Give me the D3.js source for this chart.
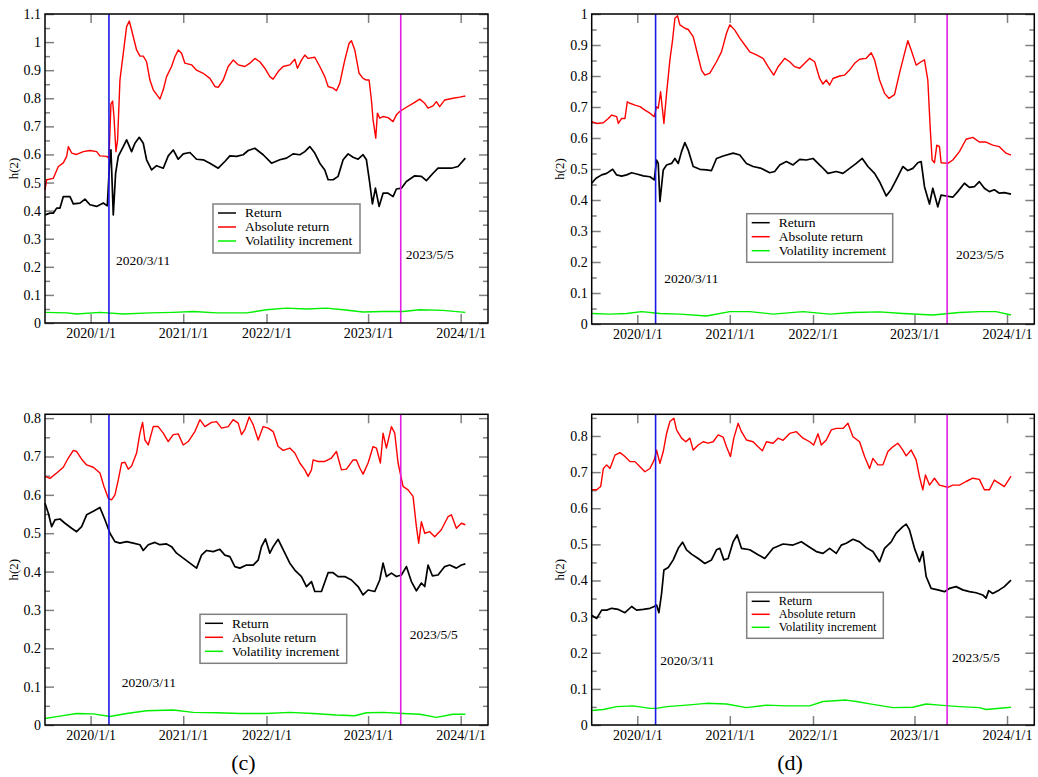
<!DOCTYPE html>
<html>
<head>
<meta charset="utf-8">
<script src="https://cdn.jsdelivr.net/npm/d3@7"></script>
<style>
body { margin: 0; background: #fff; }
text { font-family: "Liberation Serif", "Times New Roman", serif; }
</style>
</head>
<body>
<svg id="chart" width="1038" height="777"></svg>
<script>
// x is the observation index of the sample, dates only mark some of them
var xMax = 1330;
var xTicks = [137, 415, 665, 970, 1248];
var xTickLabels = ["2020/1/1", "2021/1/1", "2022/1/1", "2023/1/1", "2024/1/1"];
var events = [192, 1068];
var eventLabels = ["2020/3/11", "2023/5/5"];
var seriesNames = ["Return", "Absolute return", "Volatility increment"];
var seriesColors = ["#000000", "#ff0000", "#00f000"];

// panel (a)
var retA = [[0,0.385],[15,0.391],[25,0.391],[35,0.409],[45,0.409],[55,0.45],[75,0.45],[85,0.424],[105,0.427],[120,0.441],[135,0.421],[155,0.415],[175,0.427],[187,0.417],[195,0.593],[198,0.616],[205,0.385],[212,0.533],[220,0.593],[235,0.628],[245,0.652],[260,0.61],[270,0.64],[283,0.661],[295,0.64],[305,0.581],[320,0.545],[335,0.56],[355,0.551],[370,0.595],[385,0.616],[400,0.583],[415,0.602],[435,0.607],[455,0.583],[475,0.581],[495,0.569],[520,0.551],[540,0.575],[555,0.595],[575,0.593],[595,0.599],[610,0.614],[630,0.622],[655,0.599],[680,0.569],[705,0.581],[725,0.587],[745,0.602],[765,0.599],[780,0.61],[795,0.628],[810,0.605],[825,0.569],[840,0.545],[850,0.51],[865,0.51],[880,0.522],[895,0.581],[910,0.602],[925,0.59],[940,0.583],[955,0.599],[965,0.581],[975,0.498],[983,0.424],[992,0.48],[1003,0.415],[1015,0.462],[1030,0.462],[1045,0.45],[1055,0.477],[1070,0.48],[1085,0.504],[1110,0.524],[1130,0.522],[1145,0.507],[1165,0.533],[1180,0.551],[1200,0.551],[1220,0.551],[1240,0.557],[1262,0.587]];
var absA = [[0,0.474],[5,0.51],[25,0.515],[40,0.557],[55,0.57],[65,0.593],[70,0.628],[80,0.605],[95,0.6],[115,0.61],[135,0.614],[155,0.61],[165,0.595],[185,0.593],[192,0.587],[198,0.78],[203,0.79],[207,0.735],[213,0.61],[218,0.652],[225,0.865],[235,0.96],[245,1.055],[253,1.075],[260,1.043],[275,0.972],[285,0.95],[295,0.95],[305,0.93],[315,0.865],[325,0.83],[340,0.806],[345,0.797],[355,0.83],[365,0.877],[380,0.913],[390,0.948],[400,0.972],[410,0.96],[420,0.925],[440,0.919],[455,0.9],[475,0.889],[495,0.871],[510,0.842],[520,0.839],[535,0.865],[550,0.913],[565,0.936],[580,0.919],[600,0.913],[615,0.925],[630,0.942],[645,0.93],[660,0.907],[675,0.877],[685,0.868],[700,0.895],[715,0.913],[735,0.919],[750,0.939],[758,0.907],[770,0.936],[780,0.954],[790,0.942],[810,0.946],[825,0.913],[840,0.877],[850,0.842],[865,0.836],[875,0.827],[885,0.853],[900,0.936],[913,0.996],[920,1.005],[930,0.972],[943,0.889],[955,0.871],[965,0.865],[973,0.865],[980,0.794],[985,0.723],[993,0.658],[998,0.747],[1005,0.729],[1015,0.735],[1030,0.731],[1045,0.717],[1055,0.741],[1065,0.753],[1085,0.768],[1105,0.782],[1125,0.797],[1140,0.782],[1150,0.765],[1165,0.773],[1175,0.788],[1185,0.77],[1200,0.794],[1225,0.8],[1245,0.804],[1262,0.808]];
var volA = [[0,0.038],[65,0.036],[95,0.032],[165,0.038],[235,0.032],[315,0.036],[385,0.038],[445,0.041],[515,0.036],[605,0.036],[665,0.047],[725,0.053],[785,0.05],[845,0.053],[895,0.047],[955,0.039],[1015,0.041],[1075,0.041],[1125,0.047],[1195,0.045],[1262,0.038]];

// panel (b)
var retB = [[0,0.454],[13,0.47],[30,0.481],[45,0.486],[63,0.499],[75,0.481],[90,0.477],[105,0.481],[120,0.488],[135,0.484],[155,0.478],[175,0.475],[188,0.465],[195,0.529],[200,0.518],[205,0.395],[215,0.497],[225,0.513],[240,0.518],[250,0.534],[260,0.518],[270,0.556],[280,0.585],[290,0.561],[305,0.508],[325,0.499],[345,0.497],[360,0.495],[375,0.534],[395,0.542],[425,0.551],[445,0.545],[465,0.518],[485,0.508],[510,0.502],[535,0.488],[550,0.492],[565,0.513],[585,0.524],[605,0.513],[625,0.531],[645,0.529],[665,0.534],[690,0.508],[710,0.486],[735,0.492],[755,0.486],[775,0.502],[795,0.518],[813,0.534],[830,0.508],[850,0.486],[865,0.459],[885,0.413],[900,0.434],[915,0.465],[935,0.508],[950,0.495],[965,0.502],[980,0.52],[990,0.524],[1000,0.443],[1015,0.387],[1025,0.438],[1040,0.378],[1050,0.416],[1065,0.413],[1085,0.409],[1100,0.427],[1120,0.454],[1135,0.441],[1150,0.443],[1165,0.459],[1180,0.438],[1195,0.427],[1210,0.433],[1225,0.422],[1240,0.424],[1260,0.419]];
var absB = [[0,0.653],[15,0.647],[35,0.649],[50,0.663],[60,0.674],[75,0.669],[80,0.647],[90,0.663],[100,0.663],[107,0.717],[115,0.712],[130,0.706],[145,0.701],[160,0.69],[175,0.68],[188,0.669],[195,0.701],[200,0.696],[207,0.749],[217,0.647],[225,0.744],[235,0.852],[243,0.916],[250,0.986],[258,0.994],[265,0.965],[280,0.954],[290,0.95],[305,0.927],[315,0.884],[330,0.819],[340,0.803],[355,0.809],[375,0.846],[390,0.878],[405,0.938],[415,0.965],[430,0.948],[445,0.922],[460,0.9],[475,0.878],[495,0.868],[515,0.857],[530,0.83],[547,0.803],[560,0.83],[580,0.857],[595,0.846],[610,0.83],[625,0.825],[640,0.841],[655,0.857],[670,0.846],[685,0.792],[695,0.774],[705,0.787],[715,0.771],[725,0.792],[745,0.8],[760,0.803],[775,0.819],[790,0.841],[805,0.854],[825,0.857],[840,0.875],[850,0.852],[865,0.787],[880,0.744],[893,0.728],[910,0.74],[925,0.809],[940,0.873],[950,0.914],[960,0.884],[975,0.835],[990,0.846],[1000,0.852],[1010,0.787],[1017,0.637],[1023,0.529],[1030,0.52],[1037,0.577],[1045,0.572],[1050,0.52],[1070,0.518],[1085,0.529],[1105,0.556],[1125,0.596],[1145,0.602],[1165,0.587],[1185,0.587],[1205,0.577],[1225,0.572],[1245,0.551],[1260,0.545]];
var volB = [[0,0.034],[55,0.032],[105,0.034],[150,0.04],[205,0.034],[265,0.032],[345,0.026],[415,0.04],[475,0.04],[545,0.032],[635,0.04],[715,0.032],[785,0.037],[865,0.039],[935,0.034],[1025,0.029],[1105,0.037],[1165,0.04],[1215,0.04],[1260,0.029]];

// panel (c)
var retC = [[0,0.578],[10,0.552],[20,0.517],[30,0.535],[45,0.537],[60,0.526],[80,0.513],[95,0.504],[110,0.517],[125,0.548],[145,0.557],[165,0.567],[180,0.535],[195,0.5],[210,0.478],[225,0.474],[245,0.478],[265,0.474],[285,0.47],[295,0.455],[310,0.47],[330,0.476],[345,0.47],[365,0.472],[380,0.465],[395,0.448],[415,0.435],[435,0.422],[455,0.409],[470,0.443],[485,0.455],[505,0.452],[525,0.458],[540,0.443],[555,0.439],[570,0.413],[585,0.409],[605,0.417],[625,0.417],[640,0.43],[650,0.465],[662,0.485],[675,0.448],[685,0.465],[700,0.484],[715,0.457],[735,0.422],[750,0.404],[770,0.387],[785,0.361],[800,0.374],[810,0.348],[830,0.348],[850,0.397],[865,0.397],[880,0.387],[900,0.387],[920,0.378],[940,0.361],[955,0.339],[970,0.352],[990,0.348],[1005,0.378],[1015,0.422],[1025,0.387],[1040,0.396],[1055,0.387],[1070,0.391],[1085,0.413],[1100,0.374],[1115,0.35],[1130,0.37],[1140,0.361],[1150,0.417],[1163,0.389],[1180,0.391],[1200,0.413],[1215,0.417],[1235,0.409],[1250,0.417],[1262,0.42]];
var absC = [[0,0.648],[15,0.643],[35,0.657],[55,0.672],[70,0.696],[85,0.716],[95,0.713],[110,0.693],[125,0.678],[145,0.672],[165,0.657],[177,0.622],[190,0.591],[200,0.587],[210,0.6],[220,0.639],[230,0.683],[240,0.685],[250,0.667],[260,0.675],[275,0.709],[285,0.761],[293,0.789],[300,0.743],[310,0.73],[325,0.778],[340,0.778],[355,0.761],[370,0.739],[385,0.757],[400,0.759],[415,0.73],[430,0.739],[450,0.765],[465,0.796],[480,0.778],[500,0.789],[515,0.791],[530,0.774],[550,0.778],[565,0.796],[580,0.787],[590,0.757],[600,0.77],[613,0.803],[625,0.783],[640,0.743],[655,0.778],[670,0.774],[685,0.765],[700,0.726],[715,0.716],[735,0.722],[750,0.709],[765,0.683],[780,0.665],[790,0.648],[800,0.665],[805,0.691],[820,0.687],[840,0.687],[860,0.696],[875,0.713],[890,0.665],[905,0.667],[925,0.691],[935,0.691],[945,0.67],[955,0.654],[970,0.683],[985,0.726],[995,0.722],[1007,0.683],[1015,0.761],[1025,0.722],[1040,0.778],[1050,0.761],[1060,0.683],[1075,0.622],[1090,0.613],[1105,0.596],[1115,0.517],[1122,0.474],[1130,0.53],[1140,0.5],[1155,0.504],[1170,0.491],[1190,0.509],[1210,0.543],[1220,0.548],[1235,0.513],[1250,0.526],[1262,0.522]];
var volC = [[0,0.017],[45,0.023],[95,0.03],[145,0.029],[195,0.022],[245,0.03],[305,0.037],[385,0.039],[445,0.033],[515,0.032],[585,0.03],[665,0.03],[735,0.033],[805,0.03],[875,0.026],[930,0.024],[965,0.032],[1015,0.033],[1075,0.03],[1125,0.028],[1175,0.02],[1225,0.028],[1262,0.028]];

// panel (d)
var retD = [[0,0.304],[15,0.295],[30,0.318],[45,0.318],[60,0.323],[80,0.32],[100,0.311],[120,0.328],[135,0.318],[155,0.32],[175,0.323],[188,0.328],[195,0.332],[202,0.311],[210,0.364],[217,0.429],[230,0.436],[245,0.457],[260,0.489],[273,0.506],[285,0.485],[300,0.473],[320,0.461],[340,0.447],[360,0.457],[375,0.485],[385,0.489],[397,0.457],[410,0.461],[425,0.507],[437,0.526],[450,0.489],[475,0.485],[500,0.471],[520,0.461],[545,0.489],[575,0.501],[605,0.498],[630,0.507],[655,0.492],[675,0.48],[695,0.475],[715,0.489],[735,0.475],[750,0.498],[765,0.503],[785,0.514],[805,0.507],[825,0.491],[845,0.48],[865,0.452],[880,0.489],[900,0.507],[915,0.531],[935,0.549],[945,0.556],[955,0.54],[970,0.489],[985,0.452],[995,0.48],[1005,0.411],[1020,0.378],[1040,0.374],[1060,0.369],[1075,0.378],[1095,0.383],[1115,0.374],[1135,0.369],[1155,0.366],[1175,0.36],[1185,0.351],[1193,0.372],[1205,0.364],[1225,0.374],[1240,0.383],[1260,0.401]];
var absD = [[0,0.651],[15,0.651],[27,0.66],[35,0.71],[45,0.72],[55,0.71],[70,0.747],[85,0.754],[100,0.743],[115,0.729],[130,0.729],[145,0.715],[160,0.701],[175,0.71],[188,0.734],[195,0.761],[205,0.724],[215,0.757],[225,0.807],[235,0.84],[247,0.849],[255,0.817],[270,0.794],[283,0.784],[295,0.794],[305,0.761],[320,0.775],[335,0.784],[350,0.78],[365,0.784],[380,0.803],[395,0.797],[405,0.77],[417,0.743],[427,0.794],[440,0.835],[450,0.812],[465,0.789],[485,0.784],[500,0.77],[513,0.759],[525,0.784],[545,0.78],[560,0.794],[575,0.788],[595,0.807],[615,0.812],[635,0.794],[655,0.784],[667,0.775],[680,0.806],[690,0.775],[705,0.789],[720,0.817],[735,0.821],[755,0.821],[770,0.835],[785,0.798],[805,0.784],[820,0.743],[835,0.71],[845,0.738],[860,0.72],[875,0.72],[890,0.757],[905,0.77],[920,0.78],[935,0.761],[945,0.745],[960,0.761],[975,0.734],[985,0.687],[995,0.651],[1003,0.692],[1015,0.664],[1030,0.683],[1045,0.664],[1070,0.658],[1085,0.664],[1105,0.664],[1125,0.674],[1145,0.683],[1165,0.68],[1180,0.651],[1195,0.651],[1210,0.678],[1225,0.669],[1240,0.66],[1260,0.689]];
var volD = [[0,0.04],[35,0.043],[75,0.051],[125,0.053],[175,0.046],[195,0.046],[225,0.051],[285,0.055],[345,0.06],[405,0.058],[465,0.048],[525,0.055],[585,0.053],[655,0.053],[695,0.065],[765,0.069],[795,0.065],[845,0.057],[905,0.048],[965,0.049],[1005,0.058],[1045,0.055],[1105,0.051],[1165,0.048],[1185,0.043],[1260,0.049]];

var panels = [
  {left: 45, top: 14, w: 443, h: 309, ymax: 1.1, data: [retA, absA, volA],
   leg: {x: 168, y: 190, w: 147, h: 49, fs: 13.5, row: 14}, evY: [0.206, 0.228], evDx: [7, 5], ylab: 13, cap: null},
  {left: 591.7, top: 14, w: 442.6, h: 310, ymax: 1.0, data: [retB, absB, volB],
   leg: {x: 155, y: 199.7, w: 146, h: 48.6, fs: 13.5, row: 14}, evY: [0.133, 0.21], evDx: [8.7, 9], ylab: 559, cap: null},
  {left: 45, top: 414.3, w: 443, h: 310.7, ymax: 0.81, data: [retC, absC, volC],
   leg: {x: 155, y: 200, w: 146.7, h: 49, fs: 13.5, row: 14}, evY: [0.1, 0.224], evDx: [12.7, 9], ylab: 13, cap: "(c)"},
  {left: 591.7, top: 414.3, w: 442.6, h: 310.7, ymax: 0.86, data: [retD, absD, volD],
   leg: {x: 155, y: 178, w: 136.6, h: 46, fs: 12.3, row: 13}, evY: [0.166, 0.175], evDx: [4.7, 5], ylab: 559, cap: "(d)"}
];

var svg = d3.select("#chart");
var serif = "'Liberation Serif', 'Times New Roman', serif";

panels.forEach(function(p) {
  var g = svg.append("g").attr("transform", "translate(" + p.left + "," + p.top + ")");
  var x = d3.scaleLinear().domain([0, xMax]).range([0, p.w]);
  var y = d3.scaleLinear().domain([0, p.ymax]).range([p.h, 0]);

  var nTicks = Math.floor(p.ymax / 0.05 + 1e-6);
  var allY = d3.range(0, nTicks + 1).map(function(i) { return +(i * 0.05).toFixed(2); });
  var majorY = allY.filter(function(d, i) { return i % 2 == 0; });
  var minorY = allY.filter(function(d, i) { return i % 2 == 1; });

  function styleAxis(a) {
    a.select(".domain").remove();
    a.selectAll(".tick line").attr("stroke", "#808080").attr("stroke-width", 1.5);
    a.attr("font-family", serif).attr("font-size", 14);
    a.selectAll(".tick text").attr("fill", "#000");
  }

  g.append("g").call(d3.axisLeft(y).tickValues(majorY).tickSize(-9).tickPadding(4)
    .tickFormat(d3.format("~g"))).call(styleAxis);
  g.append("g").call(d3.axisLeft(y).tickValues(minorY).tickSize(-5).tickFormat("")).call(styleAxis);
  g.append("g").attr("transform", "translate(" + p.w + ",0)")
    .call(d3.axisRight(y).tickValues(majorY).tickSize(-9).tickFormat("")).call(styleAxis);
  g.append("g").attr("transform", "translate(" + p.w + ",0)")
    .call(d3.axisRight(y).tickValues(minorY).tickSize(-5).tickFormat("")).call(styleAxis);
  g.append("g").attr("transform", "translate(0," + p.h + ")")
    .call(d3.axisBottom(x).tickValues(xTicks).tickSize(-9).tickPadding(5)
      .tickFormat(function(d, i) { return xTickLabels[i]; })).call(styleAxis);
  g.append("g").call(d3.axisTop(x).tickValues(xTicks).tickSize(-9).tickFormat("")).call(styleAxis);

  var line = d3.line().x(function(d) { return x(d[0]); }).y(function(d) { return y(d[1]); });
  [2, 0, 1].forEach(function(k) {
    g.append("path").datum(p.data[k])
      .attr("fill", "none")
      .attr("stroke", seriesColors[k])
      .attr("stroke-width", k == 0 ? 1.7 : 1.4)
      .attr("stroke-linejoin", "round")
      .attr("d", line);
  });

  // event lines
  var evColors = ["#1a1ae6", "#e020e0"];
  events.forEach(function(e, i) {
    g.append("line")
      .attr("x1", x(e)).attr("x2", x(e))
      .attr("y1", 0).attr("y2", p.h)
      .attr("stroke", evColors[i]).attr("stroke-width", 1.6);
    g.append("text")
      .attr("x", x(e) + p.evDx[i])
      .attr("y", y(p.evY[i]))
      .attr("font-size", 13.5)
      .text(eventLabels[i]);
  });

  // frame
  g.append("rect").attr("width", p.w).attr("height", p.h)
    .attr("fill", "none").attr("stroke", "#000").attr("stroke-width", 1.5);

  // legend
  var lg = g.append("g").attr("transform", "translate(" + p.leg.x + "," + p.leg.y + ")");
  lg.append("rect").attr("width", p.leg.w).attr("height", p.leg.h)
    .attr("fill", "#fff").attr("stroke", "#808080").attr("stroke-width", 1.5);
  seriesNames.forEach(function(name, i) {
    var cy = 9 + i * p.leg.row;
    lg.append("line").attr("x1", 5).attr("x2", 23).attr("y1", cy).attr("y2", cy)
      .attr("stroke", seriesColors[i]).attr("stroke-width", 1.5);
    lg.append("text").attr("x", 32).attr("y", cy).attr("dy", "0.33em")
      .attr("font-size", p.leg.fs).text(name);
  });

  // y label
  svg.append("text")
    .attr("transform", "translate(" + p.ylab + "," + (p.top + p.h / 2) + ") rotate(-90)")
    .attr("text-anchor", "middle").attr("dy", "0.35em")
    .attr("font-size", 13).text("h(2)");

  if (p.cap) {
    svg.append("text").attr("x", p.left + p.w / 2 - 23).attr("y", 770)
      .attr("text-anchor", "middle").attr("font-size", 22).text(p.cap);
  }
});
</script>
</body>
</html>
